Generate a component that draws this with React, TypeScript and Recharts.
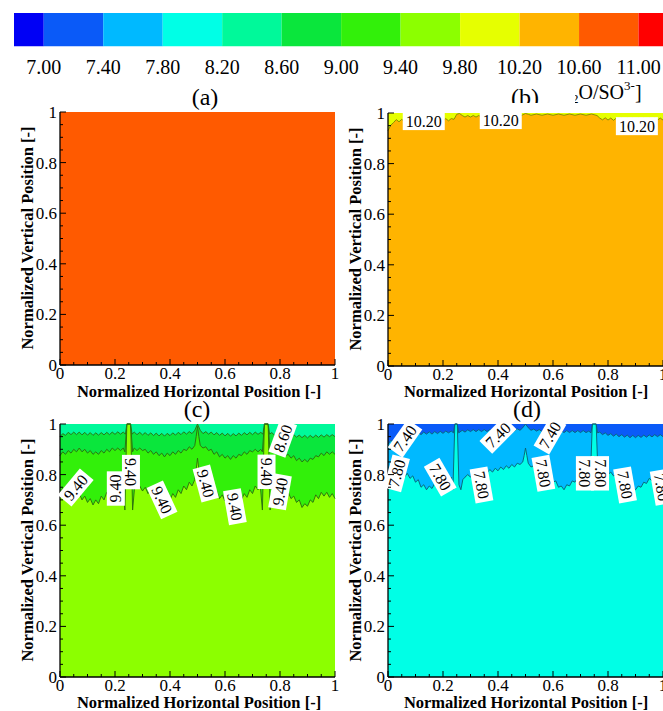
import React from 'react';
import { ComposedChart, Area, Scatter, XAxis, YAxis } from 'recharts';

const FONT = '"Liberation Serif", "Times New Roman", serif';

// legend: contour levels and band colours (band i lies below levels[i])
const levels = [7.0, 7.4, 7.8, 8.2, 8.6, 9.0, 9.4, 9.8, 10.2, 10.6, 11.0];
const levelColors = [
  '#0000F5', '#0A5AF8', '#00B9FF', '#00FFE6', '#00F99A', '#0AE63C',
  '#32F00A', '#8CFF00', '#E6FF00', '#FFB400', '#FF5A00', '#FF0000',
];
const barDomain: [number, number] = [6.8, 11.4];

const axisTicks = [
  0, 0.05, 0.1, 0.15, 0.2, 0.25, 0.3, 0.35, 0.4, 0.45, 0.5,
  0.55, 0.6, 0.65, 0.7, 0.75, 0.8, 0.85, 0.9, 0.95, 1,
];

type Pt = [number, number];

// whole field (lowest band of each panel)
const fullSpan: Pt[] = [[0, 0], [1, 0]];

// (b) contour 10.20
const b1020: Pt[] = [
  [0, 0.93], [0.01, 0.952], [0.02, 0.962], [0.03, 0.974], [0.04, 0.965], [0.05, 0.975], [0.06, 0.966],
  [0.07, 0.976], [0.08, 0.967], [0.09, 0.976], [0.1, 0.967], [0.11, 0.976], [0.12, 0.967], [0.13, 0.976],
  [0.14, 0.967], [0.15, 0.976], [0.16, 0.967], [0.17, 0.977], [0.18, 0.968], [0.19, 0.977], [0.2, 0.968],
  [0.21, 0.978], [0.22, 0.969], [0.23, 0.978], [0.24, 0.975], [0.25, 0.995], [0.26, 0.998], [0.27, 0.99],
  [0.28, 0.984], [0.29, 0.99], [0.3, 0.984], [0.31, 0.99], [0.32, 0.984], [0.33, 0.99], [0.34, 0.984],
  [0.35, 0.99], [0.36, 0.984], [0.37, 0.99], [0.38, 0.985], [0.39, 0.99], [0.4, 0.985], [0.41, 0.991],
  [0.42, 0.985], [0.43, 0.991], [0.44, 0.986], [0.45, 0.991], [0.46, 0.986], [0.47, 0.992], [0.48, 0.987],
  [0.49, 0.993], [0.5, 0.998], [0.51, 0.995], [0.52, 0.991], [0.54, 0.996], [0.56, 0.991], [0.58, 0.996],
  [0.6, 0.991], [0.62, 0.996], [0.64, 0.991], [0.66, 0.996], [0.68, 0.991], [0.7, 0.996], [0.72, 0.991],
  [0.74, 0.996], [0.76, 0.99], [0.77, 0.98], [0.78, 0.973], [0.79, 0.981], [0.8, 0.972], [0.81, 0.98],
  [0.82, 0.971], [0.83, 0.98], [0.84, 0.971], [0.85, 0.98], [0.86, 0.971], [0.87, 0.98], [0.88, 0.971],
  [0.89, 0.98], [0.9, 0.971], [0.91, 0.98], [0.92, 0.971], [0.93, 0.98], [0.94, 0.971], [0.95, 0.98],
  [0.96, 0.971], [0.97, 0.98], [0.98, 0.972], [0.99, 0.98], [1, 0.972],
];

// (c) contours 9.40, 9.00, 8.60
const c940: Pt[] = [
  [0, 0.73], [0.01, 0.745], [0.02, 0.725], [0.03, 0.74], [0.04, 0.715], [0.05, 0.735], [0.06, 0.71],
  [0.07, 0.725], [0.08, 0.7], [0.09, 0.715], [0.1, 0.69], [0.11, 0.705], [0.12, 0.68], [0.13, 0.7],
  [0.14, 0.685], [0.15, 0.715], [0.16, 0.7], [0.17, 0.73], [0.18, 0.715], [0.19, 0.745], [0.2, 0.73],
  [0.21, 0.755], [0.22, 0.74], [0.228, 0.76], [0.236, 0.66], [0.243, 1], [0.257, 1], [0.264, 0.66],
  [0.272, 0.76], [0.28, 0.745], [0.29, 0.755], [0.3, 0.735], [0.31, 0.75], [0.32, 0.725], [0.33, 0.74],
  [0.34, 0.715], [0.35, 0.73], [0.36, 0.705], [0.37, 0.72], [0.38, 0.695], [0.39, 0.715], [0.4, 0.7],
  [0.41, 0.725], [0.42, 0.71], [0.43, 0.74], [0.44, 0.725], [0.45, 0.755], [0.46, 0.74], [0.47, 0.77],
  [0.48, 0.755], [0.49, 0.78], [0.495, 0.82], [0.5, 0.865], [0.505, 0.82], [0.51, 0.78], [0.52, 0.765],
  [0.53, 0.77], [0.54, 0.745], [0.55, 0.755], [0.56, 0.725], [0.57, 0.735], [0.58, 0.705], [0.59, 0.72],
  [0.6, 0.695], [0.61, 0.705], [0.62, 0.68], [0.63, 0.695], [0.64, 0.685], [0.65, 0.71], [0.66, 0.7],
  [0.67, 0.725], [0.68, 0.71], [0.69, 0.74], [0.7, 0.725], [0.71, 0.755], [0.72, 0.74], [0.728, 0.76],
  [0.736, 0.66], [0.743, 1], [0.757, 1], [0.764, 0.66], [0.772, 0.76], [0.78, 0.745], [0.79, 0.755],
  [0.8, 0.735], [0.81, 0.745], [0.82, 0.72], [0.83, 0.73], [0.84, 0.705], [0.85, 0.715], [0.86, 0.69],
  [0.87, 0.7], [0.88, 0.67], [0.89, 0.685], [0.9, 0.675], [0.91, 0.7], [0.92, 0.69], [0.93, 0.72],
  [0.94, 0.705], [0.95, 0.73], [0.96, 0.715], [0.97, 0.73], [0.98, 0.71], [0.99, 0.725], [1, 0.705],
];

const c900: Pt[] = [
  [0, 0.875], [0.01, 0.89], [0.02, 0.88], [0.03, 0.895], [0.04, 0.885], [0.05, 0.9], [0.06, 0.89],
  [0.07, 0.905], [0.08, 0.89], [0.09, 0.9], [0.1, 0.885], [0.11, 0.895], [0.12, 0.88], [0.13, 0.89],
  [0.14, 0.88], [0.15, 0.895], [0.16, 0.885], [0.17, 0.9], [0.18, 0.89], [0.19, 0.905], [0.2, 0.895],
  [0.21, 0.905], [0.22, 0.895], [0.23, 0.905], [0.236, 0.89], [0.243, 1], [0.257, 1], [0.264, 0.89],
  [0.27, 0.905], [0.28, 0.895], [0.29, 0.905], [0.3, 0.895], [0.31, 0.9], [0.32, 0.885], [0.33, 0.895],
  [0.34, 0.88], [0.35, 0.89], [0.36, 0.875], [0.37, 0.885], [0.38, 0.87], [0.39, 0.885], [0.4, 0.875],
  [0.41, 0.89], [0.42, 0.88], [0.43, 0.895], [0.44, 0.885], [0.45, 0.9], [0.46, 0.895], [0.47, 0.91],
  [0.48, 0.9], [0.49, 0.915], [0.495, 0.95], [0.5, 0.99], [0.505, 0.95], [0.51, 0.915], [0.52, 0.905],
  [0.53, 0.91], [0.54, 0.895], [0.55, 0.9], [0.56, 0.88], [0.57, 0.89], [0.58, 0.87], [0.59, 0.88],
  [0.6, 0.865], [0.61, 0.875], [0.62, 0.86], [0.63, 0.875], [0.64, 0.865], [0.65, 0.88], [0.66, 0.875],
  [0.67, 0.89], [0.68, 0.88], [0.69, 0.895], [0.7, 0.89], [0.71, 0.9], [0.72, 0.89], [0.73, 0.9],
  [0.736, 0.89], [0.743, 1], [0.757, 1], [0.764, 0.89], [0.77, 0.9], [0.78, 0.89], [0.79, 0.895],
  [0.8, 0.88], [0.81, 0.89], [0.82, 0.875], [0.83, 0.88], [0.84, 0.865], [0.85, 0.875], [0.86, 0.855],
  [0.87, 0.865], [0.88, 0.85], [0.89, 0.86], [0.9, 0.85], [0.91, 0.865], [0.92, 0.86], [0.93, 0.875],
  [0.94, 0.87], [0.95, 0.885], [0.96, 0.875], [0.97, 0.89], [0.98, 0.88], [0.99, 0.89], [1, 0.88],
];

const c860: Pt[] = [
  [0, 0.95], [0.01, 0.962], [0.02, 0.955], [0.03, 0.967], [0.04, 0.958], [0.05, 0.968], [0.06, 0.958],
  [0.07, 0.968], [0.08, 0.957], [0.09, 0.967], [0.1, 0.956], [0.11, 0.966], [0.12, 0.955], [0.13, 0.965],
  [0.14, 0.956], [0.15, 0.966], [0.16, 0.957], [0.17, 0.967], [0.18, 0.958], [0.19, 0.968], [0.2, 0.959],
  [0.21, 0.969], [0.22, 0.96], [0.23, 0.968], [0.238, 0.96], [0.243, 1], [0.257, 1], [0.262, 0.96],
  [0.27, 0.968], [0.28, 0.958], [0.29, 0.967], [0.3, 0.957], [0.31, 0.966], [0.32, 0.955], [0.33, 0.965],
  [0.34, 0.954], [0.35, 0.964], [0.36, 0.953], [0.37, 0.963], [0.38, 0.952], [0.39, 0.963], [0.4, 0.954],
  [0.41, 0.965], [0.42, 0.956], [0.43, 0.967], [0.44, 0.958], [0.45, 0.969], [0.46, 0.96], [0.47, 0.97],
  [0.48, 0.962], [0.49, 0.975], [0.5, 1], [0.51, 0.975], [0.52, 0.962], [0.53, 0.97], [0.54, 0.96],
  [0.55, 0.968], [0.56, 0.957], [0.57, 0.966], [0.58, 0.955], [0.59, 0.964], [0.6, 0.953], [0.61, 0.963],
  [0.62, 0.952], [0.63, 0.962], [0.64, 0.953], [0.65, 0.964], [0.66, 0.955], [0.67, 0.966], [0.68, 0.957],
  [0.69, 0.967], [0.7, 0.958], [0.71, 0.968], [0.72, 0.959], [0.73, 0.967], [0.738, 0.96], [0.743, 1],
  [0.757, 1], [0.762, 0.96], [0.77, 0.966], [0.78, 0.956], [0.79, 0.964], [0.8, 0.954], [0.81, 0.962],
  [0.82, 0.952], [0.83, 0.96], [0.84, 0.95], [0.85, 0.958], [0.86, 0.948], [0.87, 0.956], [0.88, 0.946],
  [0.89, 0.955], [0.9, 0.945], [0.91, 0.955], [0.92, 0.946], [0.93, 0.956], [0.94, 0.947], [0.95, 0.957],
  [0.96, 0.948], [0.97, 0.958], [0.98, 0.95], [0.99, 0.958], [1, 0.95],
];

// (d) contours 7.80, 7.40
const d780: Pt[] = [
  [0, 0.745], [0.01, 0.77], [0.02, 0.76], [0.03, 0.785], [0.04, 0.78], [0.05, 0.8], [0.06, 0.79],
  [0.07, 0.805], [0.08, 0.785], [0.09, 0.795], [0.1, 0.77], [0.11, 0.78], [0.12, 0.75], [0.13, 0.76],
  [0.14, 0.74], [0.15, 0.755], [0.16, 0.745], [0.17, 0.765], [0.18, 0.755], [0.19, 0.775], [0.2, 0.765],
  [0.21, 0.785], [0.22, 0.775], [0.23, 0.79], [0.236, 0.74], [0.243, 1], [0.252, 1], [0.258, 0.76],
  [0.265, 0.74], [0.272, 0.78], [0.28, 0.79], [0.29, 0.8], [0.3, 0.79], [0.31, 0.805], [0.32, 0.795],
  [0.33, 0.81], [0.34, 0.8], [0.35, 0.815], [0.36, 0.805], [0.37, 0.82], [0.38, 0.81], [0.39, 0.825],
  [0.4, 0.815], [0.41, 0.83], [0.42, 0.82], [0.43, 0.835], [0.44, 0.825], [0.45, 0.84], [0.46, 0.83],
  [0.47, 0.845], [0.48, 0.84], [0.49, 0.85], [0.495, 0.875], [0.5, 0.905], [0.505, 0.875], [0.51, 0.845],
  [0.52, 0.83], [0.53, 0.835], [0.54, 0.815], [0.55, 0.82], [0.56, 0.8], [0.57, 0.805], [0.58, 0.785],
  [0.59, 0.79], [0.6, 0.77], [0.61, 0.775], [0.62, 0.75], [0.63, 0.755], [0.64, 0.74], [0.65, 0.76],
  [0.66, 0.755], [0.67, 0.775], [0.68, 0.77], [0.69, 0.79], [0.7, 0.785], [0.71, 0.8], [0.72, 0.795],
  [0.73, 0.805], [0.736, 0.79], [0.743, 1], [0.757, 1], [0.764, 0.79], [0.77, 0.805], [0.78, 0.795],
  [0.79, 0.81], [0.8, 0.8], [0.81, 0.81], [0.82, 0.795], [0.83, 0.8], [0.84, 0.78], [0.85, 0.785],
  [0.86, 0.765], [0.87, 0.77], [0.88, 0.745], [0.89, 0.75], [0.9, 0.74], [0.91, 0.755], [0.92, 0.75],
  [0.93, 0.77], [0.94, 0.765], [0.95, 0.785], [0.96, 0.775], [0.97, 0.79], [0.98, 0.78], [0.99, 0.79],
  [1, 0.78],
];

const d740: Pt[] = [
  [0, 0.92], [0.01, 0.935], [0.02, 0.93], [0.03, 0.945], [0.04, 0.94], [0.05, 0.955], [0.06, 0.95],
  [0.07, 0.962], [0.08, 0.955], [0.09, 0.965], [0.1, 0.957], [0.11, 0.967], [0.12, 0.958], [0.13, 0.968],
  [0.14, 0.96], [0.15, 0.969], [0.16, 0.96], [0.17, 0.97], [0.18, 0.962], [0.19, 0.971], [0.2, 0.963],
  [0.21, 0.972], [0.22, 0.965], [0.23, 0.972], [0.238, 0.965], [0.243, 1], [0.252, 1], [0.257, 0.965],
  [0.27, 0.975], [0.28, 0.968], [0.29, 0.977], [0.3, 0.97], [0.31, 0.978], [0.32, 0.97], [0.33, 0.978],
  [0.34, 0.97], [0.35, 0.978], [0.36, 0.97], [0.37, 0.978], [0.38, 0.97], [0.39, 0.978], [0.4, 0.97],
  [0.41, 0.978], [0.42, 0.971], [0.43, 0.979], [0.44, 0.972], [0.45, 0.98], [0.46, 0.973], [0.47, 0.981],
  [0.48, 0.975], [0.49, 0.985], [0.5, 1], [0.51, 0.985], [0.52, 0.975], [0.53, 0.98], [0.54, 0.972],
  [0.55, 0.978], [0.56, 0.97], [0.57, 0.977], [0.58, 0.968], [0.59, 0.976], [0.6, 0.967], [0.61, 0.975],
  [0.62, 0.966], [0.63, 0.974], [0.64, 0.966], [0.65, 0.974], [0.66, 0.966], [0.67, 0.974], [0.68, 0.966],
  [0.69, 0.974], [0.7, 0.966], [0.71, 0.974], [0.72, 0.966], [0.73, 0.972], [0.738, 0.965], [0.743, 1],
  [0.757, 1], [0.762, 0.965], [0.77, 0.968], [0.78, 0.958], [0.79, 0.965], [0.8, 0.955], [0.81, 0.962],
  [0.82, 0.952], [0.83, 0.96], [0.84, 0.95], [0.85, 0.958], [0.86, 0.948], [0.87, 0.956], [0.88, 0.946],
  [0.89, 0.955], [0.9, 0.946], [0.91, 0.955], [0.92, 0.947], [0.93, 0.956], [0.94, 0.948], [0.95, 0.957],
  [0.96, 0.949], [0.97, 0.958], [0.98, 0.95], [0.99, 0.958], [1, 0.95],
];

// contour labels: [x, y, text] and their rotation
const bTags: [number, number, string][] = [[0.13, 0.968, '10.20'], [0.41, 0.972, '10.20'], [0.905, 0.948, '10.20']];
const bTagAngles = [0, 0, 0];

const cTags: [number, number, string][] = [
  [0.057, 0.749, '9.40'], [0.203, 0.745, '9.40'], [0.258, 0.81, '9.40'], [0.371, 0.7, '9.40'],
  [0.53, 0.765, '9.40'], [0.636, 0.673, '9.40'], [0.751, 0.811, '9.40'], [0.8, 0.732, '9.40'],
  [0.81, 0.943, '8.60'],
];
const cTagAngles = [-50, -90, 90, 65, 75, 80, 90, -80, -70];

const dTags: [number, number, string][] = [
  [0.062, 0.943, '7.40'], [0.4, 0.956, '7.40'], [0.589, 0.956, '7.40'], [0.032, 0.805, '7.80'],
  [0.19, 0.79, '7.80'], [0.34, 0.759, '7.80'], [0.565, 0.805, '7.80'], [0.716, 0.805, '7.80'],
  [0.771, 0.805, '7.80'], [0.862, 0.759, '7.80'], [0.995, 0.75, '7.80'],
];
const dTagAngles = [-55, -45, -60, -75, 60, 80, 80, 90, 90, 80, 80];

const toPts = (arr: Pt[]) => arr.map(([x, y]) => ({ x, y }));
const toTags = (arr: [number, number, string][], angles: number[]) =>
  arr.map(([x, y, text], i) => ({ x, y, text, angle: angles[i] }));

const isMajor = (v: number) => Math.abs(v * 5 - Math.round(v * 5)) < 1e-6;
const fmt = (v: number) => (v === 0 ? '0' : v === 1 ? '1' : v.toFixed(1));

const renderBottomTick = (props: any) => {
  const { x, y, payload } = props;
  const major = isMajor(payload.value);
  return (
    <g>
      <line x1={x} x2={x} y1={y} y2={y - (major ? 6 : 3)} stroke="#000" strokeWidth={1} />
      {major && (
        <text x={x} y={y + 14} textAnchor="middle" fontSize={17} fontFamily={FONT} fill="#000">
          {fmt(payload.value)}
        </text>
      )}
    </g>
  );
};

const renderLeftTick = (props: any) => {
  const { x, y, payload } = props;
  const major = isMajor(payload.value);
  return (
    <g>
      <line x1={x} x2={x + (major ? 6 : 3)} y1={y} y2={y} stroke="#000" strokeWidth={1} />
      {major && (
        <text x={x - 3} y={y + 6} textAnchor="end" fontSize={17} fontFamily={FONT} fill="#000">
          {fmt(payload.value)}
        </text>
      )}
    </g>
  );
};

const renderBarTick = (props: any) => {
  const { x, y, payload } = props;
  return (
    <text x={x} y={y + 28} textAnchor="middle" fontSize={20} fontFamily={FONT} fill="#000">
      {payload.value.toFixed(2)}
    </text>
  );
};

const renderTag = (props: any) => {
  const { cx, cy, payload } = props;
  const w = payload.text.length * 7.6 + 4;
  return (
    <g transform={`translate(${cx},${cy}) rotate(${payload.angle})`}>
      <rect x={-w / 2} y={-9} width={w} height={18} fill="#fff" />
      <text x={0} y={5.5} textAnchor="middle" fontSize={16} fontFamily={FONT} fill="#000">
        {payload.text}
      </text>
    </g>
  );
};

interface Band { pts: Pt[]; fill: string }

function Panel({ left, top, base, bands, tags, line }: {
  left: number; top: number; base: string; bands: Band[]; tags: any[]; line: string;
}) {
  const frame = { stroke: '#000', strokeWidth: 1.3 };
  return (
    <div style={{ position: 'absolute', left, top }}>
      <ComposedChart width={345} height={319} margin={{ top: 32, right: 10, left: 0, bottom: 0 }}>
        <XAxis type="number" dataKey="x" domain={[0, 1]} ticks={axisTicks} interval={0}
          tickSize={0} tickMargin={0} tickLine={false} tick={renderBottomTick} axisLine={frame} height={34} />
        <XAxis xAxisId="top" orientation="top" type="number" dataKey="x" domain={[0, 1]} height={0}
          tick={false} tickLine={false} axisLine={frame} />
        <YAxis type="number" domain={[0, 1]} ticks={axisTicks} interval={0}
          tickSize={0} tickMargin={0} tickLine={false} tick={renderLeftTick} axisLine={frame} width={60} />
        <YAxis yAxisId="right" orientation="right" type="number" domain={[0, 1]} width={0}
          tick={false} tickLine={false} axisLine={frame} />
        <Area data={toPts(fullSpan)} dataKey="y" type="linear" baseValue={1}
          fill={base} fillOpacity={1} stroke="none"
          dot={false} activeDot={false} isAnimationActive={false} />
        {bands.map((b, i) => (
          <Area key={i} data={toPts(b.pts)} dataKey="y" type="linear" baseValue={1}
            fill={b.fill} fillOpacity={1} stroke={line} strokeWidth={0.9}
            dot={false} activeDot={false} isAnimationActive={false} />
        ))}
        {tags.length > 0 && (
          <Scatter data={tags} dataKey="y" shape={renderTag} isAnimationActive={false} />
        )}
      </ComposedChart>
    </div>
  );
}

export default function App() {
  const titleStyle = { fontFamily: FONT, fontWeight: 'bold' as const, fontSize: 16.5 };
  const xTitle = 'Normalized Horizontal Position [-]';
  const yTitle = 'Normalized Vertical Position [-]';
  // one flat band per legend colour, between neighbouring levels
  const legendBands = levelColors.map((c, i) => ({
    fill: c,
    lo: i === 0 ? barDomain[0] : levels[i - 1],
    hi: i === levels.length ? barDomain[1] : levels[i],
  }));
  return (
    <div style={{ position: 'absolute', left: 0, top: 0, width: 663, height: 711, overflow: 'hidden', background: '#fff' }}>
      {/* colour legend */}
      <div style={{ position: 'absolute', left: 0, top: 0 }}>
        <ComposedChart width={698} height={90} margin={{ top: 13, right: 0, left: 14, bottom: 0 }}
          data={levels.map((v) => ({ v }))}>
          <XAxis type="number" dataKey="v" domain={barDomain} ticks={levels} interval={0}
            tickSize={0} tickMargin={0} axisLine={false} tickLine={false} tick={renderBarTick} height={44} />
          <YAxis hide type="number" domain={[0, 1]} />
          {legendBands.map((b, i) => (
            <Area key={i} data={[{ v: b.lo, y: 0 }, { v: b.hi, y: 0 }]} dataKey="y" type="linear"
              baseValue={1} fill={b.fill} fillOpacity={1} stroke={b.fill} strokeWidth={0.5}
              dot={false} activeDot={false} isAnimationActive={false} />
          ))}
        </ComposedChart>
      </div>

      <Panel left={0} top={80} base={levelColors[10]} bands={[]} tags={[]} line="#000" />
      <Panel left={328} top={81} base={levelColors[9]}
        bands={[{ pts: b1020, fill: levelColors[8] }]}
        tags={toTags(bTags, bTagAngles)} line="#7d8a00" />
      <Panel left={0} top={392} base={levelColors[7]}
        bands={[
          { pts: c940, fill: levelColors[6] },
          { pts: c900, fill: levelColors[5] },
          { pts: c860, fill: levelColors[4] },
        ]}
        tags={toTags(cTags, cTagAngles)} line="#2a6a10" />
      <Panel left={328} top={392} base={levelColors[3]}
        bands={[
          { pts: d780, fill: levelColors[2] },
          { pts: d740, fill: levelColors[1] },
        ]}
        tags={toTags(dTags, dTagAngles)} line="#0a5f70" />

      <svg width={663} height={711} style={{ position: 'absolute', left: 0, top: 0, pointerEvents: 'none' }}
        fontFamily={FONT}>
        <defs>
          <clipPath id="topClip"><rect x={0} y={0} width={663} height={103} /></clipPath>
          <clipPath id="unitClip"><rect x={575} y={0} width={88} height={103} /></clipPath>
        </defs>
        <text x={205} y={105} fontSize={24} textAnchor="middle">(a)</text>
        <text x={525} y={105} fontSize={24} textAnchor="middle" clipPath="url(#topClip)">(b)</text>
        <text x={197} y={417} fontSize={24} textAnchor="middle">(c)</text>
        <text x={527} y={417} fontSize={24} textAnchor="middle">(d)</text>
        <text x={572} y={99} fontSize={20} clipPath="url(#unitClip)">
          <tspan fontSize={13} dy={4}>2</tspan>
          <tspan dy={-4}>O/SO</tspan>
          <tspan fontSize={13} dy={-9}>3-</tspan>
          <tspan dy={9}>]</tspan>
        </text>
        <text x={199} y={397} textAnchor="middle" style={titleStyle}>{xTitle}</text>
        <text x={526} y={397} textAnchor="middle" style={titleStyle}>{xTitle}</text>
        <text x={199} y={708} textAnchor="middle" style={titleStyle}>{xTitle}</text>
        <text x={526} y={708} textAnchor="middle" style={titleStyle}>{xTitle}</text>
        <text transform="translate(33,238) rotate(-90)" textAnchor="middle" style={titleStyle}>{yTitle}</text>
        <text transform="translate(361,239) rotate(-90)" textAnchor="middle" style={titleStyle}>{yTitle}</text>
        <text transform="translate(33,550) rotate(-90)" textAnchor="middle" style={titleStyle}>{yTitle}</text>
        <text transform="translate(361,550) rotate(-90)" textAnchor="middle" style={titleStyle}>{yTitle}</text>
      </svg>
    </div>
  );
}
